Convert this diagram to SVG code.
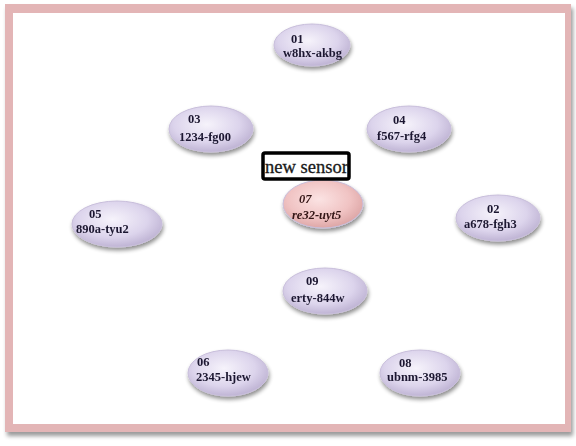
<svg xmlns="http://www.w3.org/2000/svg" width="576" height="446" viewBox="0 0 576 446">
<defs>
<radialGradient id="lav" cx="0.45" cy="0.4" r="0.65">
<stop offset="0" stop-color="#f6f3fb"/>
<stop offset="0.6" stop-color="#dcd4ec"/>
<stop offset="1" stop-color="#b9adcf"/>
</radialGradient>
<radialGradient id="pink" cx="0.45" cy="0.4" r="0.65">
<stop offset="0" stop-color="#fbe3e3"/>
<stop offset="0.6" stop-color="#f0c3c3"/>
<stop offset="1" stop-color="#d9a0a0"/>
</radialGradient>
<filter id="sh" x="-20%" y="-20%" width="140%" height="150%">
<feGaussianBlur in="SourceAlpha" stdDeviation="2"/>
<feOffset dx="1" dy="3"/>
<feComponentTransfer><feFuncA type="linear" slope="0.45"/></feComponentTransfer>
<feMerge><feMergeNode/><feMergeNode in="SourceGraphic"/></feMerge>
</filter>
<filter id="fsh" x="-5%" y="-5%" width="110%" height="110%">
<feGaussianBlur in="SourceAlpha" stdDeviation="2"/>
<feOffset dx="2" dy="4"/>
<feComponentTransfer><feFuncA type="linear" slope="0.4"/></feComponentTransfer>
<feMerge><feMergeNode/><feMergeNode in="SourceGraphic"/></feMerge>
</filter>
</defs>
<style>
.n{stroke:#c8bedb;stroke-width:1}
.t{font-family:"Liberation Serif","DejaVu Serif",serif;font-weight:bold;font-size:12.5px;fill:#1c1830}
.ti{font-style:italic;fill:#331515}
</style>
<rect width="576" height="446" fill="#ffffff"/>
<g id="frame">
<rect x="5" y="4" width="566" height="428" fill="#e3b5b6" filter="url(#fsh)"/>
<rect x="13" y="13" width="552" height="411" fill="#ffffff"/>
</g>
<g id="connectors"></g>
<g id="n01" filter="url(#sh)"><ellipse class="n" cx="312" cy="45" rx="38" ry="21" fill="url(#lav)"/>
<text class="t" x="291" y="43">01</text><text class="t" x="283" y="57">w8hx-akbg</text></g>
<g id="n03" filter="url(#sh)"><ellipse class="n" cx="211" cy="129" rx="42" ry="23" fill="url(#lav)"/>
<text class="t" x="188" y="123">03</text><text class="t" x="179" y="141">1234-fg00</text></g>
<g id="n04" filter="url(#sh)"><ellipse class="n" cx="409" cy="129" rx="42" ry="23" fill="url(#lav)"/>
<text class="t" x="393" y="124">04</text><text class="t" x="377" y="140">f567-rfg4</text></g>
<g id="n07" filter="url(#sh)"><ellipse class="n" cx="323" cy="204" rx="40" ry="24" stroke="#e0b0b0" fill="url(#pink)"/>
<text class="t ti" x="299" y="203">07</text><text class="t ti" x="292" y="219">re32-uyt5</text></g>
<g id="sensor"><rect x="263" y="153" width="86" height="26" fill="#ffffff" stroke="#000" stroke-width="3.5" rx="2"/>
<text x="265" y="173" textLength="83" lengthAdjust="spacingAndGlyphs" font-family="Liberation Serif, DejaVu Serif, serif" font-size="18" fill="#1a1a1a" stroke="#1a1a1a" stroke-width="0.3">new sensor</text></g>
<g id="n05" filter="url(#sh)"><ellipse class="n" cx="117" cy="224" rx="45" ry="23" fill="url(#lav)"/>
<text class="t" x="89" y="218">05</text><text class="t" x="76" y="233">890a-tyu2</text></g>
<g id="n02" filter="url(#sh)"><ellipse class="n" cx="498" cy="218" rx="42" ry="23" fill="url(#lav)"/>
<text class="t" x="487" y="213">02</text><text class="t" x="464" y="228">a678-fgh3</text></g>
<g id="n09" filter="url(#sh)"><ellipse class="n" cx="325" cy="291" rx="42" ry="23" fill="url(#lav)"/>
<text class="t" x="306" y="285">09</text><text class="t" x="291" y="302">erty-844w</text></g>
<g id="n06" filter="url(#sh)"><ellipse class="n" cx="228" cy="373" rx="40" ry="23" fill="url(#lav)"/>
<text class="t" x="197" y="366">06</text><text class="t" x="196" y="381">2345-hjew</text></g>
<g id="n08" filter="url(#sh)"><ellipse class="n" cx="420" cy="373" rx="40" ry="23" fill="url(#lav)"/>
<text class="t" x="399" y="367">08</text><text class="t" x="387" y="381">ubnm-3985</text></g>
</svg>
